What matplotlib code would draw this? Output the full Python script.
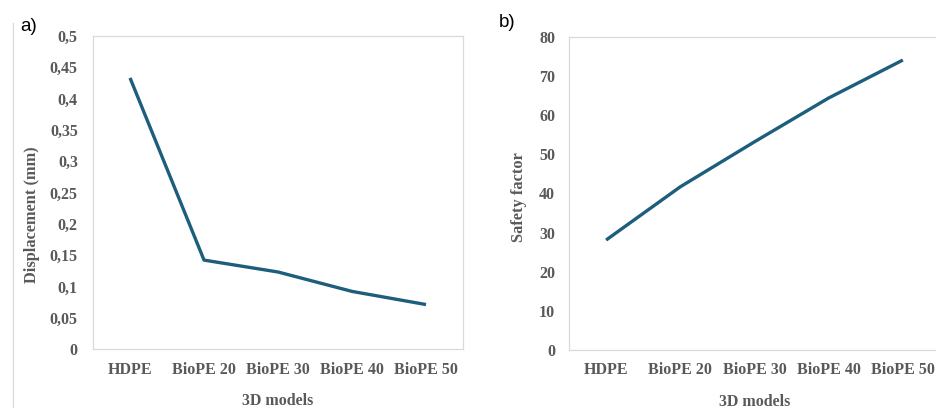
import matplotlib.pyplot as plt
from matplotlib.lines import Line2D

# data
models = ['HDPE', 'BioPE 20', 'BioPE 30', 'BioPE 40', 'BioPE 50']
displacement = [0.433, 0.142, 0.123, 0.092, 0.071]
safety_factor = [28.1, 41.7, 53.2, 64.4, 74.1]

disp_ticks = [0, 0.05, 0.1, 0.15, 0.2, 0.25, 0.3, 0.35, 0.4, 0.45, 0.5]
disp_labels = ['0', '0,05', '0,1', '0,15', '0,2', '0,25', '0,3', '0,35', '0,4', '0,45', '0,5']
sf_ticks = [0, 10, 20, 30, 40, 50, 60, 70, 80]

line_color = '#1d5e7c'
text_color = '#595959'
frame_color = '#d9d9d9'

plt.rcParams['font.family'] = ['Liberation Serif', 'DejaVu Serif']

fig = plt.figure(figsize=(9.36, 4.08), dpi=100)
ax1 = fig.add_axes([0.0994, 0.1446, 0.3953, 0.7672])
ax2 = fig.add_axes([0.6079, 0.1422, 0.3963, 0.7672])


def style_axes(ax, ticks, labels, ylabel, ylim, ypad):
    x = range(len(models))
    ax.set_xlim(-0.5, len(models) - 0.5)
    ax.set_ylim(*ylim)
    ax.set_xticks(list(x))
    ax.set_xticklabels(models)
    ax.set_yticks(ticks)
    ax.set_yticklabels(labels)
    ax.tick_params(length=0, labelsize=11.5, labelcolor=text_color)
    ax.tick_params(axis='x', pad=9)
    ax.tick_params(axis='y', pad=ypad)
    for lab in ax.get_xticklabels() + ax.get_yticklabels():
        lab.set_fontweight('bold')
    for sp in ax.spines.values():
        sp.set_color(frame_color)
        sp.set_linewidth(0.9)
    ax.set_xlabel('3D models', fontsize=11.5, fontweight='bold', color=text_color, labelpad=11)
    ax.set_ylabel(ylabel, fontsize=11.8, fontweight='bold', color=text_color)


ax1.plot(range(len(models)), displacement, color=line_color, lw=2.4, solid_capstyle='butt')
style_axes(ax1, disp_ticks, disp_labels, 'Displacement (mm)', (0, 0.5), 11)
ax1.yaxis.set_label_coords(-0.143, 0.43)

ax2.plot(range(len(models)), safety_factor, color=line_color, lw=2.4, solid_capstyle='butt')
style_axes(ax2, sf_ticks, [str(t) for t in sf_ticks], 'Safety factor', (0, 80), 10)
ax2.yaxis.set_label_coords(-0.113, 0.49)

# panel letters
fig.text(0.022, 0.935, 'a)', fontsize=13.5, family=['Liberation Sans', 'DejaVu Sans'],
         color='black', va='center')
fig.text(0.533, 0.945, 'b)', fontsize=13.5, family=['Liberation Sans', 'DejaVu Sans'],
         color='black', va='center')

# thin separator line on the left edge
fig.add_artist(Line2D([0.0139, 0.0139], [0.0, 0.944], color=frame_color, lw=0.9,
                      transform=fig.transFigure))

fig.savefig('out.png', dpi=100)
